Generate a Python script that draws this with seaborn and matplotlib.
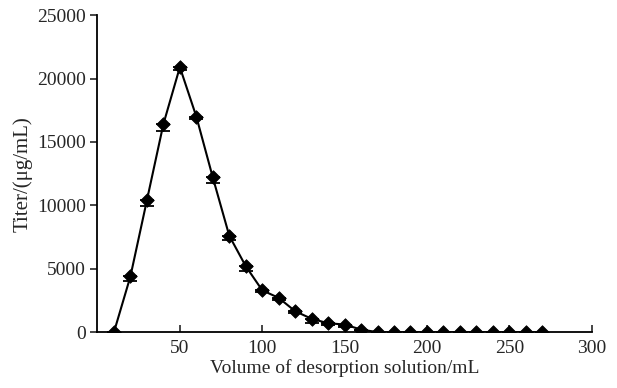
import matplotlib
matplotlib.use("Agg")
import matplotlib.pyplot as plt
import seaborn as sns
import pandas as pd

# data
volume = [10, 20, 30, 40, 50, 60, 70, 80, 90, 100, 110, 120, 130, 140,
          150, 160, 170, 180, 190, 200, 210, 220, 230, 240, 250, 260, 270]
titer = [0, 4400, 10400, 16400, 20900, 17000, 12200, 7600, 5200, 3300,
         2700, 1650, 1050, 700, 600, 200, 0, 0, 0, 0, 0, 0, 0, 0, 0, 0, 0]
titer_err = [0, 350, 450, 500, 200, 200, 450, 350, 400, 150,
             150, 150, 350, 100, 200, 50, 0, 0, 0, 0, 0, 0, 0, 0, 0, 0, 0]

df = pd.DataFrame({"volume": volume, "titer": titer, "err": titer_err})

sns.set_style("ticks")
plt.rcParams["font.family"] = ["Liberation Serif", "DejaVu Serif"]

fig = plt.figure(figsize=(6.17, 3.88), dpi=100)
ax = fig.add_axes([0.158, 0.144, 0.801, 0.817])

sns.lineplot(data=df, x="volume", y="titer", color="black", linewidth=1.5, ax=ax)
# only the lower half of each error bar shows below the markers
ax.errorbar(df["volume"], df["titer"], yerr=[df["err"], [0] * len(df)], fmt="none",
            ecolor="black", elinewidth=1, capsize=5, capthick=1.3)
sns.scatterplot(data=df, x="volume", y="titer", marker="D", s=48,
                color="black", edgecolor="black", zorder=5, ax=ax)

ax.set_xlim(0, 300)
ax.set_ylim(0, 25000)
ax.set_xticks([50, 100, 150, 200, 250, 300])
ax.set_yticks([0, 5000, 10000, 15000, 20000, 25000])
ax.tick_params(axis="x", direction="in", length=5, width=1.2, labelsize=14, pad=6)
ax.tick_params(axis="y", direction="out", length=5, width=1.2, labelsize=14)
for s in ["left", "bottom"]:
    ax.spines[s].set_linewidth(1.3)
    ax.spines[s].set_color("black")
sns.despine(ax=ax)

ax.set_xlabel("Volume of desorption solution/mL", fontsize=14, labelpad=1)
ax.set_ylabel("Titer/(μg/mL)", fontsize=15, labelpad=3)

fig.savefig("out.png", dpi=100)
